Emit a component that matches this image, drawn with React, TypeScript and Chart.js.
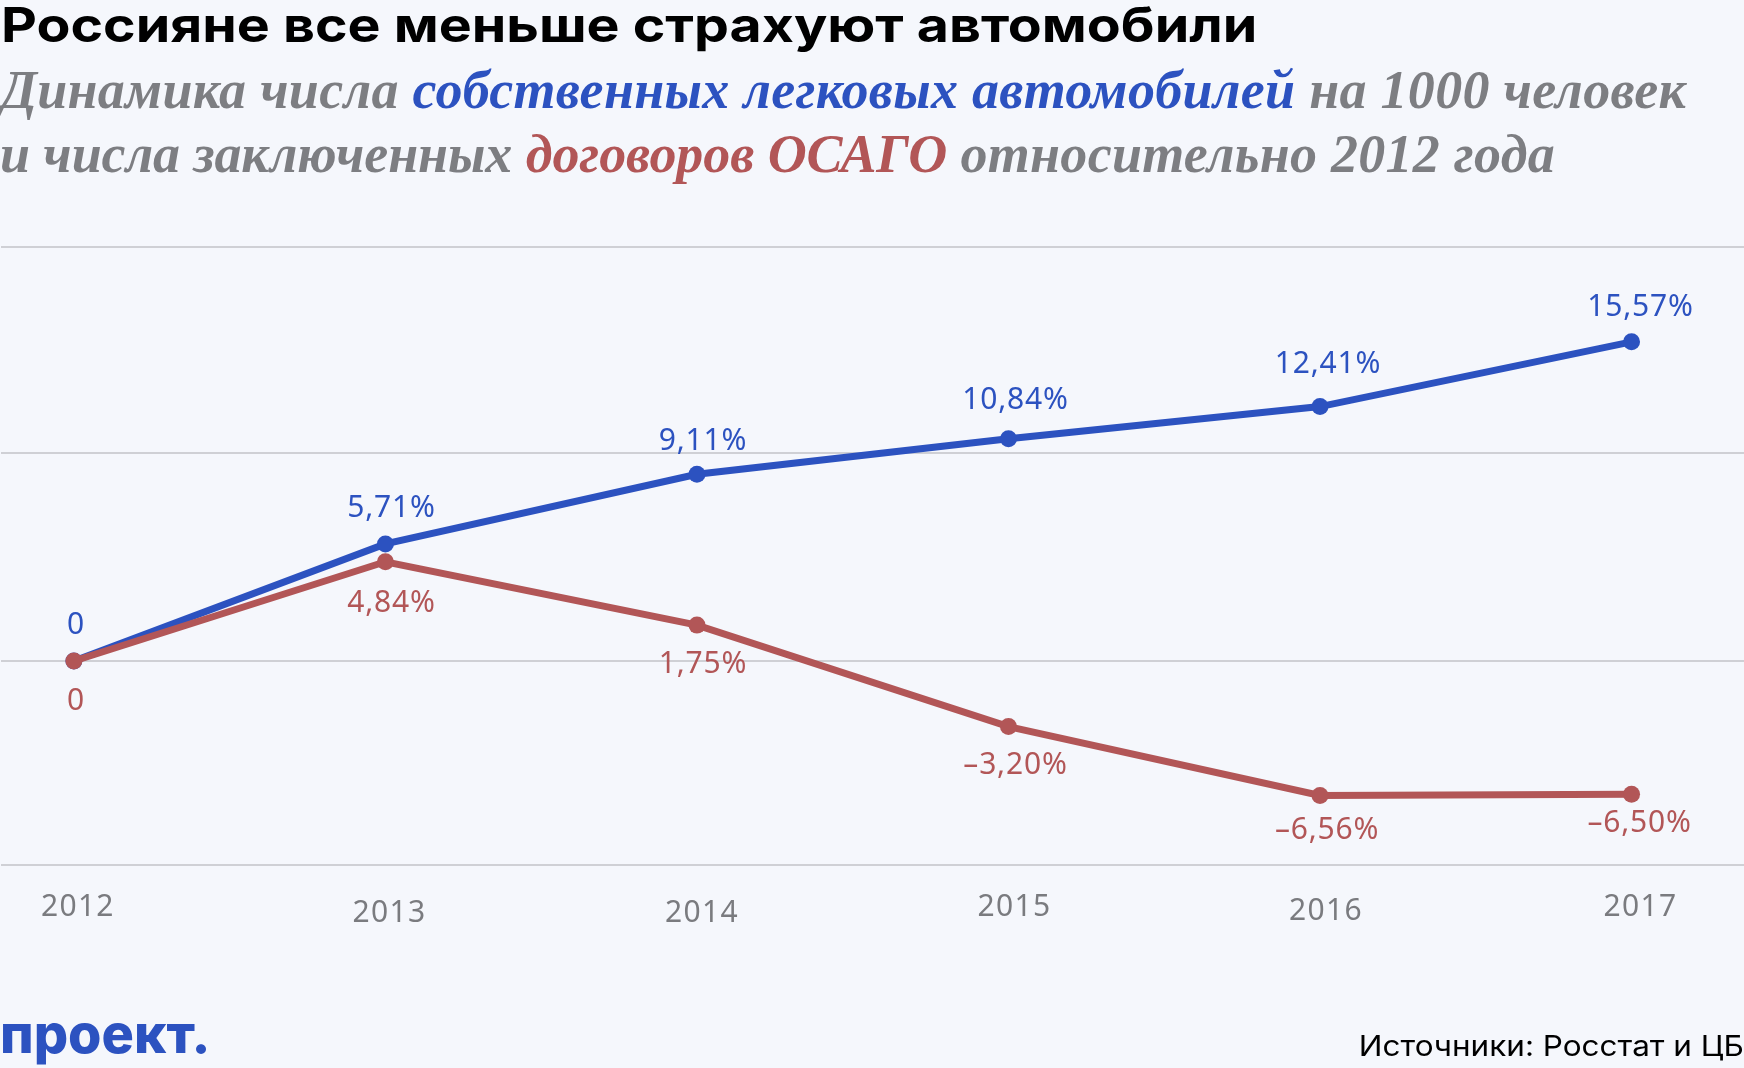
import React, { useEffect, useRef } from 'react';
import Chart from 'chart.js/auto';

const years = [2012, 2013, 2014, 2015, 2016, 2017];
const carsValues = [0, 5.71, 9.11, 10.84, 12.41, 15.57];
const osagoValues = [0, 4.84, 1.75, -3.2, -6.56, -6.5];
const carsLabels = ['0', '5,71%', '9,11%', '10,84%', '12,41%', '15,57%'];
const osagoLabels = ['0', '4,84%', '1,75%', '–3,20%', '–6,56%', '–6,50%'];
const gridValues = [20.195, 10.146, 0, -9.95];

const BLUE = '#2C52C0';
const RED = '#B25657';
const GREY = '#7D7E82';
const BG = '#F5F7FC';

// label offsets from the point, the original labels are placed by hand
const carsOffsets = [[2, -27], [6, -27], [6, -24], [7, -30], [8, -34], [9, -26]];
const osagoOffsets = [[2, 49], [6, 50], [6, 48], [7, 47], [7, 44], [8, 38]];
const yearOffsets = [[4, 916], [4, 922], [5, 922], [6, 916], [6, 920], [9, 916]];

const labelsPlugin = {
    id: 'pointLabels',
    afterDatasetsDraw(chart: any) {
        const { ctx, scales } = chart;
        const x = scales.x;
        const y = scales.y;
        ctx.save();
        ctx.textAlign = 'center';
        ctx.textBaseline = 'alphabetic';
        ctx.font = '30px "Noto Sans"';
        ctx.letterSpacing = '0.8px';
        ctx.fillStyle = BLUE;
        years.forEach((year, i) => {
            ctx.fillText(carsLabels[i], x.getPixelForValue(year) + carsOffsets[i][0], y.getPixelForValue(carsValues[i]) + carsOffsets[i][1]);
        });
        ctx.fillStyle = RED;
        years.forEach((year, i) => {
            ctx.fillText(osagoLabels[i], x.getPixelForValue(year) + osagoOffsets[i][0], y.getPixelForValue(osagoValues[i]) + osagoOffsets[i][1]);
        });
        ctx.letterSpacing = '1.3px';
        ctx.fillStyle = '#7A7B7F';
        years.forEach((year, i) => {
            ctx.fillText(String(year), x.getPixelForValue(year) + yearOffsets[i][0], yearOffsets[i][1]);
        });
        ctx.restore();
    }
};

const App = () => {
    const chartContainer = useRef<HTMLCanvasElement>(null);

    useEffect(() => {
        let myChart: Chart | null = null;
        if (chartContainer.current) {
            myChart = new Chart(chartContainer.current, {
                type: 'line',
                data: {
                    datasets: [
                        {
                            label: 'Автомобили',
                            data: years.map((year, i) => ({ x: year, y: carsValues[i] })),
                            borderColor: BLUE,
                            backgroundColor: BLUE,
                            borderWidth: 7,
                            pointRadius: 8.5,
                            pointBorderWidth: 0,
                            tension: 0,
                            order: 2
                        },
                        {
                            label: 'ОСАГО',
                            data: years.map((year, i) => ({ x: year, y: osagoValues[i] })),
                            borderColor: RED,
                            backgroundColor: RED,
                            borderWidth: 7,
                            pointRadius: 8.5,
                            pointBorderWidth: 0,
                            tension: 0,
                            order: 1
                        }
                    ]
                },
                options: {
                    animation: false,
                    responsive: false,
                    devicePixelRatio: 1,
                    layout: { autoPadding: false, padding: { left: 1, right: 0, top: 230, bottom: 188 } },
                    plugins: { legend: { display: false }, tooltip: { enabled: false } },
                    scales: {
                        x: {
                            type: 'linear',
                            min: 2011.766,
                            max: 2017.361,
                            grid: { display: false, drawTicks: false },
                            border: { display: false },
                            ticks: { display: false }
                        },
                        y: {
                            min: -10.683,
                            max: 21.024,
                            afterBuildTicks: (axis: any) => {
                                axis.ticks = gridValues.map(value => ({ value }));
                            },
                            grid: { color: '#CFD0D5', lineWidth: 2, drawTicks: false },
                            border: { display: false },
                            ticks: { display: false }
                        }
                    }
                },
                plugins: [labelsPlugin]
            });
        }
        return () => {
            if (myChart) myChart.destroy();
        };
    }, []);

    const text: React.CSSProperties = { position: 'absolute', whiteSpace: 'nowrap', margin: 0 };
    const subtitle: React.CSSProperties = {
        ...text,
        left: 0,
        fontFamily: '"Liberation Serif"',
        fontWeight: 700,
        fontStyle: 'italic',
        fontSize: 54,
        lineHeight: '60px',
        color: GREY
    };

    return (
        <div style={{ position: 'absolute', left: 0, top: 0, width: 1744, height: 1068, background: BG, overflow: 'hidden' }}>
            <canvas ref={chartContainer} width={1744} height={1068} style={{ display: 'block' }}></canvas>
            <div style={{ ...text, left: 1, top: -3, fontFamily: 'Inter', fontWeight: 700, fontSize: 48, lineHeight: '56px', color: '#000', transform: 'scaleX(1.155)', transformOrigin: 'left' }}>
                Россияне все меньше страхуют автомобили
            </div>
            <div style={{ ...subtitle, top: 60, letterSpacing: '0.3px' }}>
                Динамика числа <span style={{ color: BLUE }}>собственных легковых автомобилей</span> на 1000 человек
            </div>
            <div style={{ ...subtitle, top: 124, letterSpacing: '-0.08px' }}>
                и числа заключенных <span style={{ color: RED }}>договоров ОСАГО</span> <span style={{ letterSpacing: '0.28px' }}>относительно 2012 года</span>
            </div>
            <div style={{ ...text, left: 0, top: 1002, fontFamily: 'Inter', fontWeight: 800, fontSize: 54, lineHeight: '64px', color: BLUE }}>
                проект.
            </div>
            <div style={{ ...text, right: 0, top: 1028, fontFamily: 'Inter', fontWeight: 400, fontSize: 29, lineHeight: '36px', color: '#000', transform: 'scaleX(1.085)', transformOrigin: 'right' }}>
                Источники: Росстат и ЦБ
            </div>
        </div>
    );
};

export default App;
